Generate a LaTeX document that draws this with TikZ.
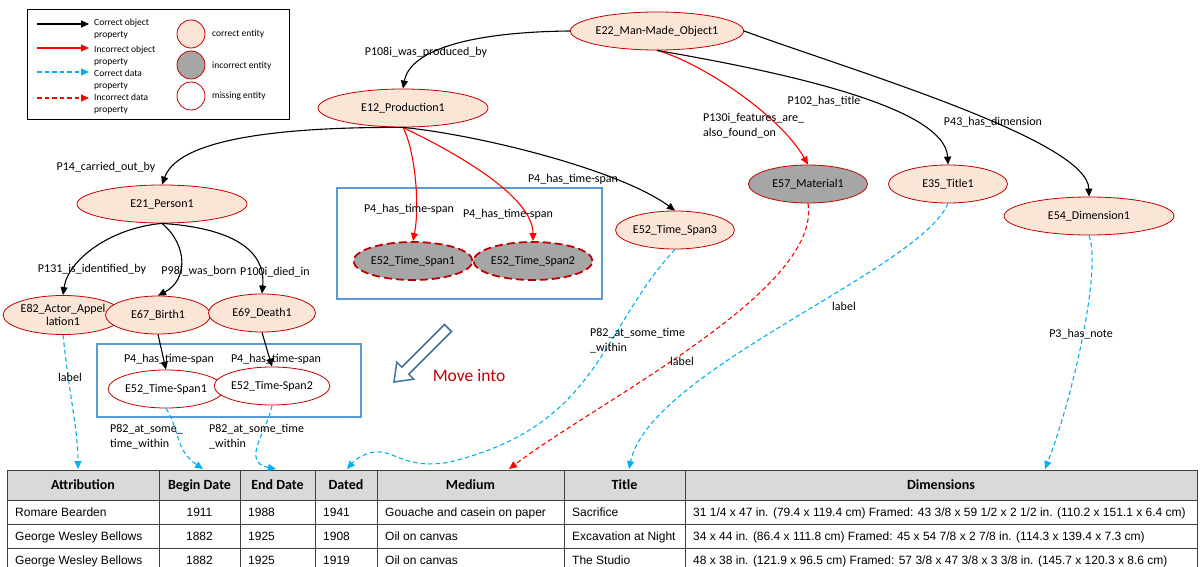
\documentclass[tikz,border=0pt]{standalone}
\usepackage{fontspec}
\setmainfont{Carlito}
\newfontfamily\arialfont{Liberation Sans}
\usetikzlibrary{shapes.geometric,arrows.meta}
\definecolor{peach}{HTML}{FBE5D6}
\definecolor{ered}{HTML}{C00000}
\definecolor{egrey}{HTML}{A6A6A6}
\definecolor{dcyan}{HTML}{00B0F0}
\definecolor{boxblue}{HTML}{5B9BD5}
\definecolor{arrowblue}{HTML}{41719C}
\definecolor{hdrgrey}{HTML}{D9D9D9}
\definecolor{tline}{HTML}{404040}
\begin{document}
\begin{tikzpicture}[x=1pt,y=-1pt,
  ent/.style={ellipse, draw=ered, line width=0.8pt, inner sep=0pt, minimum height=38pt, font=\fontsize{12}{13.5}\selectfont, align=center},
  okent/.style={ent, fill=peach},
  incent/.style={ent, fill=egrey},
  badent/.style={ent, fill=egrey, line width=1.8pt, dash pattern=on 8pt off 4pt},
  misent/.style={ent, fill=white},
  tip/.style={-{Triangle[length=8pt,width=7pt]}},
  objok/.style={tip, draw=black, line width=1.1pt},
  objbad/.style={tip, draw=red, line width=1.1pt},
  dataok/.style={tip, draw=dcyan, line width=1.1pt, dash pattern=on 4.5pt off 3pt},
  databad/.style={tip, draw=red, line width=1.1pt, dash pattern=on 4.5pt off 3pt},
  lbl/.style={font=\fontsize{12}{15}\selectfont, inner sep=0pt, align=left},
  leg/.style={font=\fontsize{9.5}{11.5}\selectfont, inner sep=0pt, align=left, anchor=west},
  legc/.style={circle, draw=ered, line width=0.8pt, minimum size=28pt, inner sep=0pt},
  bluebox/.style={draw=boxblue, line width=1.5pt},
  hdr/.style={font=\fontsize{14}{16}\selectfont\bfseries, inner sep=0pt, anchor=base},
  cell/.style={font=\arialfont\fontsize{12}{14}\selectfont, inner sep=0pt, anchor=base west},
  ccell/.style={font=\arialfont\fontsize{12}{14}\selectfont, inner sep=0pt, anchor=base}
]
\useasboundingbox (0,0) rectangle (1200,567);
\fill[white] (0,0) rectangle (1200,567);

% ---------- legend ----------
\draw[black, line width=0.8pt] (27,9) rectangle (289,119);
\coordinate (la1) at (37,24); \coordinate (lb1) at (89,24);
\coordinate (la2) at (37,48); \coordinate (lb2) at (89,48);
\coordinate (la3) at (37,72); \coordinate (lb3) at (89,72);
\coordinate (la4) at (37,98); \coordinate (lb4) at (89,98);
\draw[objok] (la1) -- (lb1);
\draw[objbad] (la2) -- (lb2);
\draw[dataok] (la3) -- (lb3);
\draw[databad] (la4) -- (lb4);
\node[leg] (lt1) at (94,29) {Correct object\\property};
\node[leg] (lt2) at (94,56) {Incorrect object\\property};
\node[leg] (lt3) at (94,80) {Correct data\\property};
\node[leg] (lt4) at (94,104) {Incorrect data\\property};
\node[legc, fill=peach] (lc1) at (191,34) {};
\node[legc, fill=egrey] (lc2) at (191,65) {};
\node[legc, fill=white] (lc3) at (191,96) {};
\node[leg] (lct1) at (212,34) {correct entity};
\node[leg] (lct2) at (212,66) {incorrect entity};
\node[leg] (lct3) at (212,96) {missing entity};

% ---------- boxes ----------
\draw[bluebox] (337,188) rectangle (602,299);
\draw[bluebox] (97,344) rectangle (361,417);

% ---------- entities ----------
\node[okent, minimum width=170pt] (e22) at (657,31) {E22\_Man-Made\_Object1};
\node[okent, minimum width=170pt] (e12) at (403,108) {E12\_Production1};
\node[okent, minimum width=170pt] (e21) at (162,204) {E21\_Person1};
\node[okent, minimum width=104pt, minimum height=39pt] (e82) at (63,315) {E82\_Actor\_Appel\\lation1};
\node[okent, minimum width=105pt] (e67) at (158,315) {E67\_Birth1};
\node[okent, minimum width=107pt] (e69) at (262,313) {E69\_Death1};
\node[misent, minimum width=106pt] (ts1) at (166,389) {E52\_Time-Span1};
\node[misent, minimum width=107pt] (ts2) at (272,386) {E52\_Time-Span2};
\node[badent, minimum width=107pt] (tsg1) at (413,261) {E52\_Time\_Span1};
\node[badent, minimum width=107pt] (tsg2) at (533,261) {E52\_Time\_Span2};
\node[okent, minimum width=107pt] (ts3) at (675,230) {E52\_Time\_Span3};
\node[incent, minimum width=119pt] (e57) at (808,184) {E57\_Material1};
\node[okent, minimum width=119pt] (e35) at (948,184) {E35\_Title1};
\node[okent, minimum width=170pt] (e54) at (1089,216) {E54\_Dimension1};

% ---------- move-into arrow ----------
\draw[arrowblue, line width=1.5pt, fill=white, line join=miter]
  (444.5,324.5) -- (401.8,367.2) -- (396.8,362.2) -- (394,382) -- (413.8,379.2) -- (408.8,374.2) -- (451.5,331.5) -- cycle;
\node[text=ered, font=\fontsize{17.5}{20}\selectfont, inner sep=0pt] (moveinto) at (469,376) {Move into};

% ---------- table ----------
\fill[hdrgrey] (7,470) rectangle (1197,500);
\foreach \yy in {470,500,524,548} {\draw[tline, line width=1pt] (7,\yy) -- (1197,\yy);}
\foreach \xx in {7,159,240,315,377,564,685,1197} {\draw[tline, line width=1pt] (\xx,470) -- (\xx,567);}
\node[hdr] (hAttr) at (83,489.5) {Attribution};
\node[hdr] (hBegin) at (199.5,489.5) {Begin Date};
\node[hdr] (hEnd) at (277.5,489.5) {End Date};
\node[hdr] (hDated) at (346,489.5) {Dated};
\node[hdr] (hMedium) at (470.5,489.5) {Medium};
\node[hdr] (hTitle) at (624.5,489.5) {Title};
\node[hdr] (hDim) at (941,489.5) {Dimensions};

\node[cell] (r1a) at (15,516.5) {Romare Bearden};
\node[ccell] (r1b) at (199.5,516.5) {1911};
\node[cell] (r1c) at (248,516.5) {1988};
\node[cell] (r1d) at (323,516.5) {1941};
\node[cell] (r1e) at (385,516.5) {Gouache and casein on paper};
\node[cell] (r1f) at (572,516.5) {Sacrifice};
\node[cell] (r1g) at (693,516.5) {31 1/4 x 47 in. (79.4 x 119.4 cm) Framed: 43 3/8 x 59 1/2 x 2 1/2 in. (110.2 x 151.1 x 6.4 cm)};

\node[cell] (r2a) at (15,540.5) {George Wesley Bellows};
\node[ccell] (r2b) at (199.5,540.5) {1882};
\node[cell] (r2c) at (248,540.5) {1925};
\node[cell] (r2d) at (323,540.5) {1908};
\node[cell] (r2e) at (385,540.5) {Oil on canvas};
\node[cell] (r2f) at (572,540.5) {Excavation at Night};
\node[cell] (r2g) at (693,540.5) {34 x 44 in. (86.4 x 111.8 cm) Framed: 45 x 54 7/8 x 2 7/8 in. (114.3 x 139.4 x 7.3 cm)};

\node[cell] (r3a) at (15,564.5) {George Wesley Bellows};
\node[ccell] (r3b) at (199.5,564.5) {1882};
\node[cell] (r3c) at (248,564.5) {1925};
\node[cell] (r3d) at (323,564.5) {1919};
\node[cell] (r3e) at (385,564.5) {Oil on canvas};
\node[cell] (r3f) at (572,564.5) {The Studio};
\node[cell] (r3g) at (693,564.5) {48 x 38 in. (121.9 x 96.5 cm) Framed: 57 3/8 x 47 3/8 x 3 3/8 in. (145.7 x 120.3 x 8.6 cm)};

\coordinate (tAttr) at (78,469);
\coordinate (tBegin) at (203,469);
\coordinate (tEnd) at (276,469);
\coordinate (tDated) at (347,469);
\coordinate (tMedium) at (509,469);
\coordinate (tTitle) at (629,469);
\coordinate (tDim) at (1045,469);

% ---------- connectors ----------
\draw[objok] (e22.west) .. controls (470,32) and (410,50) .. (e12.north);
\draw[objbad] (e22.south) .. controls (700,62) and (780,115) .. (e57.north);
\draw[objok] (e22.south) .. controls (770,70) and (945,105) .. (e35.north);
\draw[objok] (e22.east) .. controls (850,70) and (1088,140) .. (e54.north);
\draw[objok] (e12.south) .. controls (300,127) and (180,135) .. (e21.north);
\draw[objbad] (e12.south) .. controls (415,150) and (420,205) .. (tsg1.north);
\draw[objbad] (e12.south) .. controls (450,150) and (533,195) .. (tsg2.north);
\draw[objok] (e12.south) .. controls (480,135) and (620,170) .. (ts3.north);
\draw[objok] (e21.south) .. controls (110,228) and (68,260) .. (e82.north);
\draw[objok] (e21.south) .. controls (188,245) and (188,280) .. (e67.north);
\draw[objok] (e21.south) .. controls (232,228) and (266,250) .. (e69.north);
\draw[objok] (e67.south) -- (ts1.north);
\draw[objok] (e69.south) -- (ts2.north);

\draw[dataok] (e82.south) .. controls (70,400) and (78,430) .. (tAttr);
\draw[dataok] (ts1.south) .. controls (180,430) and (175,450) .. (tBegin);
\draw[dataok] (ts2.south) .. controls (268,430) and (240,462) .. (tEnd);
\draw[dataok] (ts3.south) .. controls (600,330) and (600,425) .. (450,462) .. controls (405,470) and (395,450) .. (375,452) .. controls (364,453) and (355,460) .. (tDated);
\draw[databad] (e57.south) .. controls (822,290) and (600,400) .. (tMedium);
\draw[dataok] (e35.south) .. controls (920,270) and (650,370) .. (tTitle);
\draw[dataok] (e54.south) .. controls (1102,270) and (1072,400) .. (tDim);

% ---------- labels ----------
\node[lbl] (l1) at (426,52) {P108i\_was\_produced\_by};
\node[lbl, anchor=west] (l2) at (703,126) {P130i\_features\_are\_\\also\_found\_on};
\node[lbl] (l3) at (824,101) {P102\_has\_title};
\node[lbl] (l4) at (993,122) {P43\_has\_dimension};
\node[lbl] (l5) at (106,167) {P14\_carried\_out\_by};
\node[lbl] (l6) at (409,209) {P4\_has\_time-span};
\node[lbl] (l7) at (508,214) {P4\_has\_time-span};
\node[lbl] (l8) at (573,179) {P4\_has\_time-span};
\node[lbl] (l9) at (92,269) {P131\_is\_identified\_by};
\node[lbl] (l10) at (199,271) {P98i\_was\_born};
\node[lbl] (l11) at (275,272) {P100i\_died\_in};
\node[lbl] (l12) at (169,359) {P4\_has\_time-span};
\node[lbl] (l13) at (276,359) {P4\_has\_time-span};
\node[lbl] (l14) at (70,377) {label};
\node[lbl, anchor=west] (l15) at (110,437) {P82\_at\_some\_\\time\_within};
\node[lbl, anchor=west] (l16) at (209,437) {P82\_at\_some\_time\\\_within};
\node[lbl, anchor=west] (l17) at (590,341) {P82\_at\_some\_time\\\_within};
\node[lbl] (l18) at (682,361) {label};
\node[lbl] (l19) at (844,306) {label};
\node[lbl] (l20) at (1081,334) {P3\_has\_note};
\end{tikzpicture}
\end{document}
